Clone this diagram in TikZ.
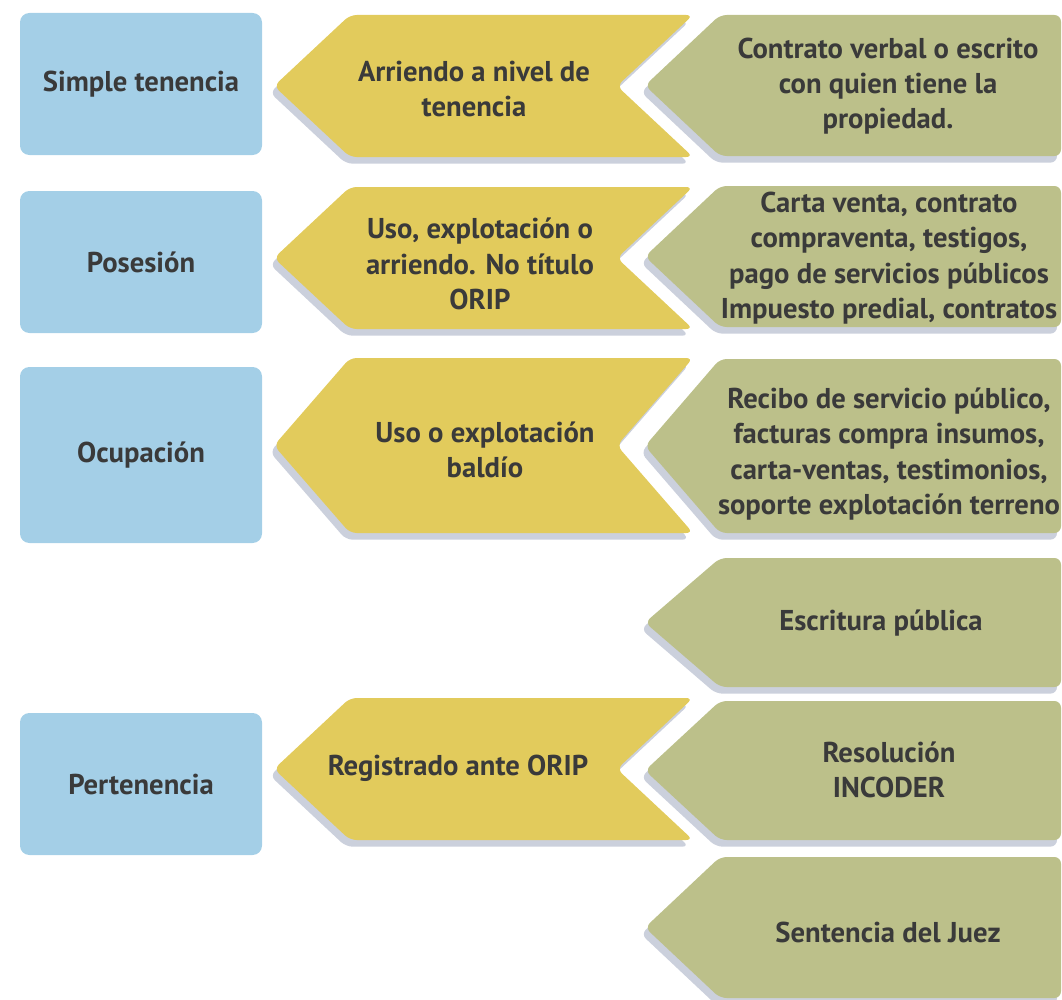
\documentclass[tikz,border=0pt]{standalone}
\usepackage{fontspec}
\setmainfont{PT Sans}
\usetikzlibrary{shadows}

\definecolor{boxblue}{RGB}{164,207,231}
\definecolor{arrowyellow}{RGB}{226,203,92}
\definecolor{arrowgreen}{RGB}{188,192,138}
\definecolor{shadowgray}{RGB}{190,196,211}
\definecolor{textgray}{RGB}{58,58,58}

\begin{document}
\begin{tikzpicture}[x=0.75pt,y=-0.75pt,
		every node/.style={font=\fontsize{21.5}{26.5}\selectfont\bfseries,text=textgray,align=center},
		blue box/.style={fill=boxblue,rounded corners=7pt,minimum width=181.5pt,inner sep=0pt},
		arrow shadow/.style={drop shadow={shadow xshift=-3pt,shadow yshift=-5pt,fill=shadowgray,opacity=.8}},
		yellow arrow/.style={fill=arrowyellow,rounded corners=5pt,arrow shadow},
		green arrow/.style={fill=arrowgreen,rounded corners=5pt,arrow shadow}]
		\useasboundingbox (0,0) rectangle (1062,999);
		% documentos (verde)
		\foreach \t/\b in {15/156,186/327,359/533,558/687,701/840,857/998}
		\fill[green arrow] (720,\t) -- (1061,\t) -- (1061,\b) -- (720,\b) -- (645,{(\t+\b)/2}) -- cycle;
		% forma de relacion (amarillo)
		\foreach \t/\b in {15/157,187/329,358/533,698/840}
		\fill[yellow arrow] (350,\t) -- (693,\t) -- (617,{(\t+\b)/2}) -- (693,\b) -- (350,\b) -- (274,{(\t+\b)/2}) -- cycle;
		% tipo de relacion (azul)
		\node[blue box,minimum height=106.5pt] (simple) at (141,84) {Simple tenencia};
		\node[blue box,minimum height=106.5pt] (posesion) at (141,262) {Posesión};
		\node[blue box,minimum height=132pt] (ocupacion) at (141,455) {Ocupación};
		\node[blue box,minimum height=106.5pt] (pertenencia) at (141,784) {Pertenencia};
		
		\node (arriendo) at (474,89) {Arriendo a nivel de\\tenencia};
		\node (uso) at (480,264) {Uso, explotación o\\arriendo. No título\\ORIP};
		\node (baldio) at (485,450) {Uso o explotación\\baldío};
		\node (registrado) at (458,768) {Registrado ante ORIP};
		
		\node (contrato) at (888,86) {Contrato verbal o escrito\\con quien tiene la\\propiedad.};
		\node (carta) at (889,258) {Carta venta, contrato\\compraventa, testigos,\\pago de servicios públicos\\Impuesto predial, contratos};
		\node (recibo) at (889,454) {Recibo de servicio público,\\facturas compra insumos,\\carta-ventas, testimonios,\\soporte explotación terreno};
		\node (escritura) at (881,623) {Escritura pública};
		\node (resolucion) at (889,770) {Resolución\\INCODER};
		\node (sentencia) at (888,932) {Sentencia del Juez};
		\end{tikzpicture}
\end{document}
